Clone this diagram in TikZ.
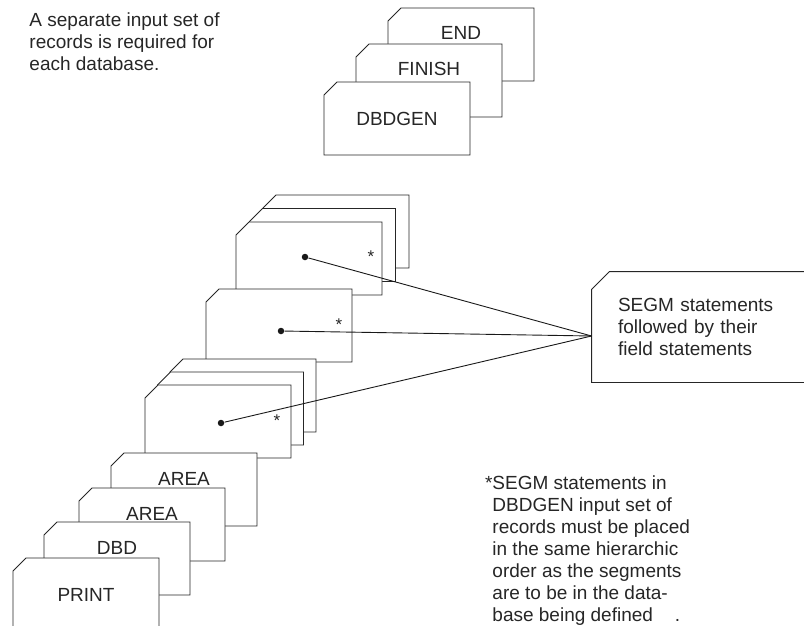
\documentclass[tikz,border=0pt]{standalone}
\usepackage{fontspec}
\setmainfont{Liberation Sans}

\tikzset{
  cardline/.style={draw=black!85, fill=white},
  pics/card/.style={code={
    \filldraw [cardline] (-73,-23.5) -- (-60,-36.5) -- (73,-36.5) -- (73,36.5) -- (-73,36.5) -- cycle;
    \node (-text) at (0,0) {#1};
  }},
  pics/backcard/.style={code={
    \filldraw [cardline] (-73,-23.5) -- (-60,-36.5) -- (73,-36.5) -- (73,36.5) -- (-73,36.5) -- cycle;
    \node [anchor=base] (-text) at (0,-4.5) {#1};
  }},
  dotmark/.style={circle, fill=black!90, inner sep=0pt, minimum size=6.5pt},
  starmark/.style={anchor=base, inner sep=0pt, font=\fontsize{17}{17}\selectfont},
  plaintext/.style={anchor=north west, align=left, inner sep=0pt}
}

\begin{document}
\begin{tikzpicture}[x=1pt,y=-1pt,line width=0.9pt,
  every node/.style={font=\fontsize{19}{22}\selectfont, text=black!85}]
\useasboundingbox (0,0) rectangle (804,626);
\node [plaintext] (remark) at (29,12) {A separate input set of\\records is required for\\each database.};
% DBDGEN, FINISH, END
\pic (endcard) at (461,44.5) {backcard=END};
\pic (finish) at (429,80.5) {backcard=FINISH};
\pic (dbdgen) at (397,118.5) {card=DBDGEN};
% segment cards
\pic (segA3) at (336,231.5) {card={}};
\pic (segA2) at (322.5,245) {card={}};
\pic (segA1) at (309,258.5) {card={}};
\pic (segB1) at (279,325.5) {card={}};
\pic (segC3) at (243,395.5) {card={}};
\pic (segC2) at (230.5,408.5) {card={}};
\pic (segC1) at (218,421.5) {card={}};
% AREA, DBD, PRINT
\pic (area1) at (184,489.5) {backcard=AREA};
\pic (area2) at (152,524.5) {backcard=AREA};
\pic (dbd) at (117,558.5) {backcard=DBD};
\pic (print) at (86,594.5) {card=PRINT};
% SEGM box
\node [minimum width=260pt, minimum height=110pt, inner sep=0pt, text width=208pt, align=left] (segm) at (722,327) {SEGM statements\\followed by their\\field statements};
\draw [cardline, fill=none] ([yshift=-18pt]segm.north west) -- ([xshift=18pt]segm.north west) -- (segm.north east) -- (segm.south east) -- (segm.south west) -- cycle;
\coordinate (meet) at ([yshift=-9pt]segm.west);
\node [dotmark] (dot1) at (305,257) {};
\node [dotmark] (dot2) at (281,331) {};
\node [dotmark] (dot3) at (221,423) {};
\node [starmark] (star1) at (371,262) {*};
\node [starmark] (star2) at (339,330) {*};
\node [starmark] (star3) at (277,426) {*};
\draw [black!90] (dot1) -- (meet);
\draw [black!90] (dot2) -- (meet);
\draw [black!90] (dot3) -- (meet);
\node [plaintext] (footnote) at (492,475) {\llap{*}SEGM statements in\\DBDGEN input set of\\records must be placed\\in the same hierarchic\\order as the segments\\are to be in the data-\\base being defined\hspace{22pt}.};
\end{tikzpicture}
\end{document}
